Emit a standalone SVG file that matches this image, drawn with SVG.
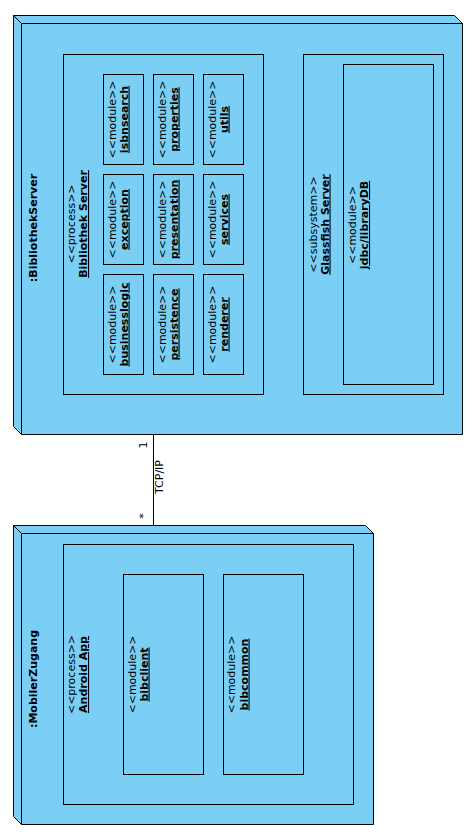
<svg xmlns="http://www.w3.org/2000/svg" width="476" height="840" viewBox="0 0 476 840">
  <style>
    .box { fill: #7BCFF5; stroke: #000; stroke-width: 1; }
    .edge { fill: none; stroke: #000; stroke-width: 1; }
    text { font-family: "DejaVu Sans", "Liberation Sans", sans-serif; font-size: 11px; fill: #000; text-anchor: middle; }
    .name { font-weight: bold; text-decoration: underline; }
    .title { font-weight: bold; }
  </style>

  <!-- connectors -->
  <g id="connectors">
    <line class="edge" x1="153.5" y1="434" x2="153.5" y2="525"/>
    <text x="147" y="445" transform="rotate(-90 147 445)">1</text>
    <text x="147" y="516" transform="rotate(-90 147 516)">*</text>
    <text x="163" y="477" transform="rotate(-90 163 477)">TCP/IP</text>
  </g>

  <!-- node :BibliothekServer -->
  <g id="BibliothekServer">
    <path class="box" d="M13.5 15.5 H454.5 L462.5 23.5 V434.5 H21.5 L13.5 426.5 Z"/>
    <path class="edge" d="M13.5 15.5 L21.5 23.5 H462.5 M21.5 23.5 V434.5"/>
    <text class="title" x="37" y="228" transform="rotate(-90 37 228)">:BibliothekServer</text>

    <g id="BibliothekServerProcess">
      <rect class="box" x="63.5" y="54.5" width="200" height="340"/>
      <text x="75" y="224" transform="rotate(-90 75 224)">&lt;&lt;process&gt;&gt;</text>
      <text class="name" x="87" y="224" transform="rotate(-90 87 224)">Bibliothek Server</text>

      <g id="isbnsearch">
        <rect class="box" x="103.5" y="74.5" width="40" height="90"/>
        <text x="115.5" y="119.5" transform="rotate(-90 115.5 119.5)">&lt;&lt;module&gt;&gt;</text>
        <text class="name" x="127.5" y="119.5" transform="rotate(-90 127.5 119.5)">isbnsearch</text>
      </g>
      <g id="exception">
        <rect class="box" x="103.5" y="174.5" width="40" height="90"/>
        <text x="115.5" y="219.5" transform="rotate(-90 115.5 219.5)">&lt;&lt;module&gt;&gt;</text>
        <text class="name" x="127.5" y="219.5" transform="rotate(-90 127.5 219.5)">exception</text>
      </g>
      <g id="businesslogic">
        <rect class="box" x="103.5" y="274.5" width="40" height="100"/>
        <text x="115.5" y="324.5" transform="rotate(-90 115.5 324.5)">&lt;&lt;module&gt;&gt;</text>
        <text class="name" x="127.5" y="324.5" transform="rotate(-90 127.5 324.5)">businesslogic</text>
      </g>

      <g id="properties">
        <rect class="box" x="153.5" y="74.5" width="40" height="90"/>
        <text x="165.5" y="119.5" transform="rotate(-90 165.5 119.5)">&lt;&lt;module&gt;&gt;</text>
        <text class="name" x="177.5" y="119.5" transform="rotate(-90 177.5 119.5)">properties</text>
      </g>
      <g id="presentation">
        <rect class="box" x="153.5" y="174.5" width="40" height="90"/>
        <text x="165.5" y="219.5" transform="rotate(-90 165.5 219.5)">&lt;&lt;module&gt;&gt;</text>
        <text class="name" x="177.5" y="219.5" transform="rotate(-90 177.5 219.5)">presentation</text>
      </g>
      <g id="persistence">
        <rect class="box" x="153.5" y="274.5" width="40" height="100"/>
        <text x="165.5" y="324.5" transform="rotate(-90 165.5 324.5)">&lt;&lt;module&gt;&gt;</text>
        <text class="name" x="177.5" y="324.5" transform="rotate(-90 177.5 324.5)">persistence</text>
      </g>

      <g id="utils">
        <rect class="box" x="203.5" y="74.5" width="40" height="90"/>
        <text x="215.5" y="119.5" transform="rotate(-90 215.5 119.5)">&lt;&lt;module&gt;&gt;</text>
        <text class="name" x="227.5" y="119.5" transform="rotate(-90 227.5 119.5)">utils</text>
      </g>
      <g id="services">
        <rect class="box" x="203.5" y="174.5" width="40" height="90"/>
        <text x="215.5" y="219.5" transform="rotate(-90 215.5 219.5)">&lt;&lt;module&gt;&gt;</text>
        <text class="name" x="227.5" y="219.5" transform="rotate(-90 227.5 219.5)">services</text>
      </g>
      <g id="renderer">
        <rect class="box" x="203.5" y="274.5" width="40" height="100"/>
        <text x="215.5" y="324.5" transform="rotate(-90 215.5 324.5)">&lt;&lt;module&gt;&gt;</text>
        <text class="name" x="227.5" y="324.5" transform="rotate(-90 227.5 324.5)">renderer</text>
      </g>
    </g>

    <g id="GlassfishServer">
      <rect class="box" x="303.5" y="54.5" width="140" height="340"/>
      <text x="317" y="224.5" transform="rotate(-90 317 224.5)">&lt;&lt;subsystem&gt;&gt;</text>
      <text class="name" x="328.5" y="224.5" transform="rotate(-90 328.5 224.5)">Glassfish Server</text>
      <g id="jdbcLibraryDB">
        <rect class="box" x="343.5" y="64.5" width="90" height="320"/>
        <text x="355.5" y="225" transform="rotate(-90 355.5 225)">&lt;&lt;module&gt;&gt;</text>
        <text class="name" x="368" y="225" transform="rotate(-90 368 225)">jdbc/libraryDB</text>
      </g>
    </g>
  </g>

  <!-- node :MobilerZugang -->
  <g id="MobilerZugang">
    <path class="box" d="M13.5 525.5 H365.5 L373.5 533.5 V824.5 H21.5 L13.5 816.5 Z"/>
    <path class="edge" d="M13.5 525.5 L21.5 533.5 H373.5 M21.5 533.5 V824.5"/>
    <text class="title" x="37" y="679" transform="rotate(-90 37 679)">:MobilerZugang</text>

    <g id="AndroidApp">
      <rect class="box" x="63.5" y="544.5" width="290" height="260"/>
      <text x="75" y="674.5" transform="rotate(-90 75 674.5)">&lt;&lt;process&gt;&gt;</text>
      <text class="name" x="87" y="674.5" transform="rotate(-90 87 674.5)">Android App</text>

      <g id="bibclient">
        <rect class="box" x="123.5" y="574.5" width="80" height="200"/>
        <text x="135.5" y="674.5" transform="rotate(-90 135.5 674.5)">&lt;&lt;module&gt;&gt;</text>
        <text class="name" x="147.5" y="674.5" transform="rotate(-90 147.5 674.5)">bibclient</text>
      </g>
      <g id="bibcommon">
        <rect class="box" x="223.5" y="574.5" width="80" height="200"/>
        <text x="235" y="674.5" transform="rotate(-90 235 674.5)">&lt;&lt;module&gt;&gt;</text>
        <text class="name" x="247.5" y="674.5" transform="rotate(-90 247.5 674.5)">bibcommon</text>
      </g>
    </g>
  </g>
</svg>
